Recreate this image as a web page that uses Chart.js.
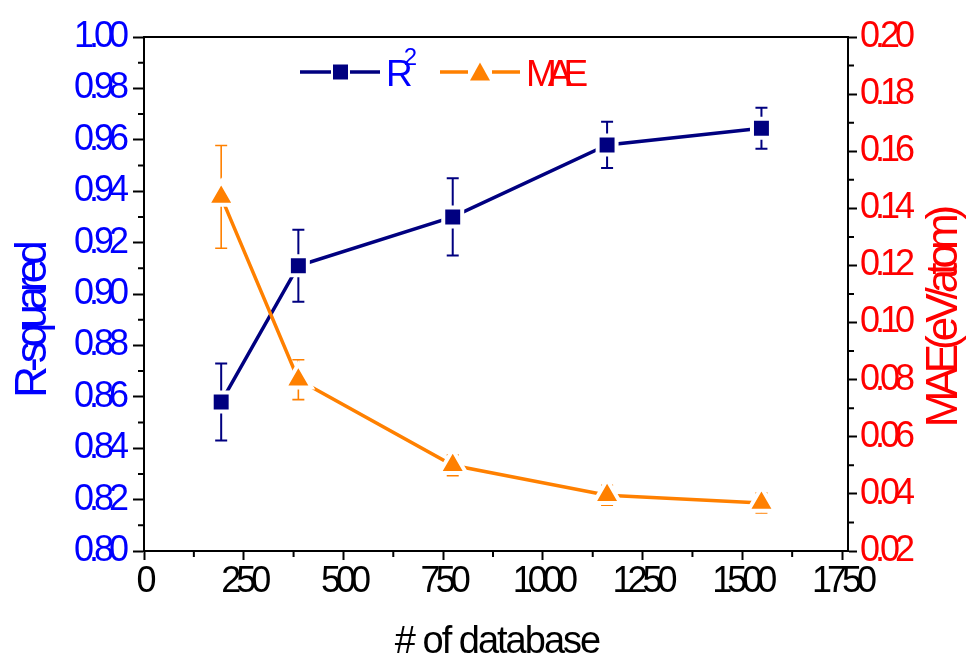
<!DOCTYPE html>
<html>
<head>
<meta charset="utf-8">
<script src="https://cdn.jsdelivr.net/npm/chart.js@4/dist/chart.umd.min.js"></script>
<style>
  html, body { margin: 0; padding: 0; background: #ffffff; }
  #wrap { width: 969px; height: 662px; position: relative; }
</style>
</head>
<body>
<div id="wrap"><canvas id="c"></canvas></div>
<script>
// ---- data ----
const databaseSizes = [193.5, 387, 774, 1161, 1548];
const r2Values = [0.858, 0.911, 0.930, 0.958, 0.9645];
const r2Errors = [0.015, 0.014, 0.015, 0.009, 0.008];
const maeValues = [0.144, 0.080, 0.050, 0.0395, 0.0368];
const maeErrors = [0.018, 0.007, 0.0036, 0.0035, 0.0035];

const xTickValues = [0, 250, 500, 750, 1000, 1250, 1500, 1750];
const leftTickValues = [0.80, 0.82, 0.84, 0.86, 0.88, 0.90, 0.92, 0.94, 0.96, 0.98, 1.00];
const rightTickValues = [0.02, 0.04, 0.06, 0.08, 0.10, 0.12, 0.14, 0.16, 0.18, 0.20];

const seriesNames = ['R²', 'MAE'];
const xTitle = '# of database';
const leftTitle = 'R-squared';
const rightTitle = 'MAE(eV/atom)';

const NAVY = '#000080';
const ORANGE = '#FF8000';
const BLUE = '#0000FF';
const RED = '#FF0000';
const FONT = '"Liberation Sans", Arial, sans-serif';

const r2Points = databaseSizes.map((x, i) => ({ x: x, y: r2Values[i] }));
const maePoints = databaseSizes.map((x, i) => ({ x: x, y: maeValues[i] }));

// ---- plugins ----
const spacingPlugin = {
  id: 'spacing',
  beforeUpdate(chart) { chart.ctx.letterSpacing = '-5px'; },
  beforeDraw(chart) { chart.ctx.letterSpacing = '-5px'; }
};

const errorBarPlugin = {
  id: 'errorBars',
  beforeDatasetsDraw(chart) {
    const ctx = chart.ctx;
    const xs = chart.scales.x;
    const sets = [
      { vals: r2Values, errs: r2Errors, scale: chart.scales.y, color: NAVY, w: 2 },
      { vals: maeValues, errs: maeErrors, scale: chart.scales.y1, color: ORANGE, w: 1.6 }
    ];
    ctx.save();
    sets.forEach(s => {
      ctx.strokeStyle = s.color;
      ctx.lineWidth = s.w;
      s.vals.forEach((v, i) => {
        const px = xs.getPixelForValue(databaseSizes[i]);
        const top = s.scale.getPixelForValue(v + s.errs[i]);
        const bot = s.scale.getPixelForValue(v - s.errs[i]);
        ctx.beginPath();
        ctx.moveTo(px, top); ctx.lineTo(px, bot);
        ctx.moveTo(px - 6, top); ctx.lineTo(px + 6, top);
        ctx.moveTo(px - 6, bot); ctx.lineTo(px + 6, bot);
        ctx.stroke();
      });
    });
    ctx.restore();
  }
};

const minorTickPlugin = {
  id: 'minorTicks',
  afterDraw(chart) {
    const ctx = chart.ctx;
    const { x, y, y1 } = chart.scales;
    const area = chart.chartArea;
    ctx.save();
    ctx.strokeStyle = '#000';
    ctx.lineWidth = 2;
    ctx.beginPath();
    for (let i = 0; i < xTickValues.length - 1; i++) {
      const v = (xTickValues[i] + xTickValues[i + 1]) / 2;
      const p = x.getPixelForValue(v);
      ctx.moveTo(p, area.bottom); ctx.lineTo(p, area.bottom + 6);
    }
    for (let i = 0; i < leftTickValues.length - 1; i++) {
      const v = (leftTickValues[i] + leftTickValues[i + 1]) / 2;
      const p = y.getPixelForValue(v);
      ctx.moveTo(area.left, p); ctx.lineTo(area.left - 6, p);
    }
    for (let i = 0; i < rightTickValues.length - 1; i++) {
      const v = (rightTickValues[i] + rightTickValues[i + 1]) / 2;
      const p = y1.getPixelForValue(v);
      ctx.moveTo(area.right, p); ctx.lineTo(area.right + 6, p);
    }
    ctx.stroke();
    ctx.restore();
  }
};

const titlesPlugin = {
  id: 'axisTitles',
  afterDraw(chart) {
    const ctx = chart.ctx;
    const area = chart.chartArea;
    ctx.save();
    ctx.textAlign = 'center';
    ctx.textBaseline = 'alphabetic';
    // x title
    ctx.font = '38px ' + FONT;
    ctx.letterSpacing = '-2px';
    ctx.fillStyle = '#000';
    ctx.fillText(xTitle, (area.left + area.right) / 2 + 1, area.bottom + 102);
    // left title
    ctx.font = '44px ' + FONT;
    ctx.letterSpacing = '-6px';
    ctx.fillStyle = BLUE;
    ctx.save();
    ctx.translate(area.left - 98, (area.top + area.bottom) / 2 + 31);
    ctx.rotate(-Math.PI / 2);
    ctx.fillText(leftTitle, 3, 0);
    ctx.restore();
    // right title
    ctx.fillStyle = RED;
    ctx.save();
    ctx.translate(area.right + 109, (area.top + area.bottom) / 2 + 28);
    ctx.rotate(-Math.PI / 2);
    ctx.fillText(rightTitle, 3, 0);
    ctx.restore();
    ctx.restore();
  }
};

const legendPlugin = {
  id: 'customLegend',
  afterDraw(chart) {
    const ctx = chart.ctx;
    const area = chart.chartArea;
    const cy = area.top + 35;
    ctx.save();
    ctx.lineCap = 'butt';
    // R² symbol
    let x0 = area.left + 156;
    ctx.strokeStyle = NAVY; ctx.lineWidth = 3.4;
    ctx.beginPath();
    ctx.moveTo(x0, cy); ctx.lineTo(x0 + 31, cy);
    ctx.moveTo(x0 + 50, cy); ctx.lineTo(x0 + 80, cy);
    ctx.stroke();
    ctx.fillStyle = NAVY;
    ctx.fillRect(x0 + 33, cy - 7.5, 15, 15);
    // R² text
    ctx.textAlign = 'left';
    ctx.textBaseline = 'alphabetic';
    ctx.fillStyle = BLUE;
    ctx.font = '37px ' + FONT;
    ctx.letterSpacing = '0px';
    const base = seriesNames[0].replace('²', '');
    ctx.fillText(base, x0 + 86, cy + 13.5);
    const bw = ctx.measureText(base).width;
    ctx.font = '24px ' + FONT;
    ctx.fillText('2', x0 + 86 + bw - 9, cy - 7);
    // MAE symbol
    let x1 = area.left + 296;
    ctx.strokeStyle = ORANGE; ctx.lineWidth = 3.4;
    ctx.beginPath();
    ctx.moveTo(x1, cy); ctx.lineTo(x1 + 28, cy);
    ctx.moveTo(x1 + 52, cy); ctx.lineTo(x1 + 80, cy);
    ctx.stroke();
    ctx.fillStyle = ORANGE;
    ctx.beginPath();
    ctx.moveTo(x1 + 40, cy - 9.5);
    ctx.lineTo(x1 + 50, cy + 8.5);
    ctx.lineTo(x1 + 30, cy + 8.5);
    ctx.closePath();
    ctx.fill();
    // MAE text
    ctx.fillStyle = RED;
    ctx.font = '37px ' + FONT;
    ctx.letterSpacing = '-9px';
    ctx.fillText(seriesNames[1], x1 + 86, cy + 13.5);
    ctx.restore();
  }
};

// ---- chart ----
const tickFont = { family: FONT, size: 36 };

new Chart(document.getElementById('c'), {
  type: 'line',
  data: {
    datasets: [
      {
        label: seriesNames[1],
        data: maePoints,
        yAxisID: 'y1',
        order: 0,
        borderColor: ORANGE,
        backgroundColor: ORANGE,
        borderWidth: 3.5,
        pointStyle: 'triangle',
        pointRadius: 15.5,
        pointBackgroundColor: ORANGE,
        pointBorderColor: '#ffffff',
        pointBorderWidth: 4,
        tension: 0
      },
      {
        label: seriesNames[0],
        data: r2Points,
        yAxisID: 'y',
        order: 1,
        borderColor: NAVY,
        backgroundColor: NAVY,
        borderWidth: 3.5,
        pointStyle: 'rect',
        pointRadius: 13.4,
        pointBackgroundColor: NAVY,
        pointBorderColor: '#ffffff',
        pointBorderWidth: 4,
        tension: 0
      }
    ]
  },
  options: {
    responsive: true,
    maintainAspectRatio: false,
    animation: false,
    events: [],
    layout: { padding: 0 },
    plugins: { legend: { display: false }, tooltip: { enabled: false } },
    scales: {
      x: {
        type: 'linear',
        position: 'bottom',
        min: 0,
        max: 1765,
        afterBuildTicks: s => { s.ticks = xTickValues.map(v => ({ value: v })); },
        afterFit: s => { s.height = 111; },
        ticks: {
          color: '#000',
          font: tickFont,
          padding: 0,
          maxRotation: 0,
          autoSkip: false,
          callback: v => String(v)
        },
        grid: { drawOnChartArea: false, drawTicks: true, tickLength: 9, tickWidth: 2, tickColor: '#000', color: '#000' },
        border: { display: true, color: '#000', width: 2 },
        title: { display: false }
      },
      x2: {
        type: 'linear',
        position: 'top',
        min: 0,
        max: 1765,
        afterFit: s => { s.height = 37; },
        ticks: { display: false },
        grid: { drawOnChartArea: false, drawTicks: false },
        border: { display: true, color: '#000', width: 2 }
      },
      y: {
        type: 'linear',
        position: 'left',
        min: 0.80,
        max: 1.00,
        afterBuildTicks: s => { s.ticks = leftTickValues.map(v => ({ value: v })); },
        afterFit: s => { s.width = 144; },
        ticks: {
          color: BLUE,
          font: tickFont,
          padding: 9,
          autoSkip: false,
          callback: v => Number(v).toFixed(2)
        },
        grid: { drawOnChartArea: false, drawTicks: true, tickLength: 11, tickWidth: 2, tickColor: '#000', color: '#000' },
        border: { display: true, color: '#000', width: 2 }
      },
      y1: {
        type: 'linear',
        position: 'right',
        min: 0.02,
        max: 0.20,
        afterBuildTicks: s => { s.ticks = rightTickValues.map(v => ({ value: v })); },
        afterFit: s => { s.width = 121; },
        ticks: {
          color: RED,
          font: tickFont,
          padding: 3,
          autoSkip: false,
          callback: v => Number(v).toFixed(2)
        },
        grid: { drawOnChartArea: false, drawTicks: true, tickLength: 9, tickWidth: 2, tickColor: '#000', color: '#000' },
        border: { display: true, color: '#000', width: 2 }
      }
    }
  },
  plugins: [spacingPlugin, errorBarPlugin, minorTickPlugin, titlesPlugin, legendPlugin]
});
</script>
</body>
</html>
